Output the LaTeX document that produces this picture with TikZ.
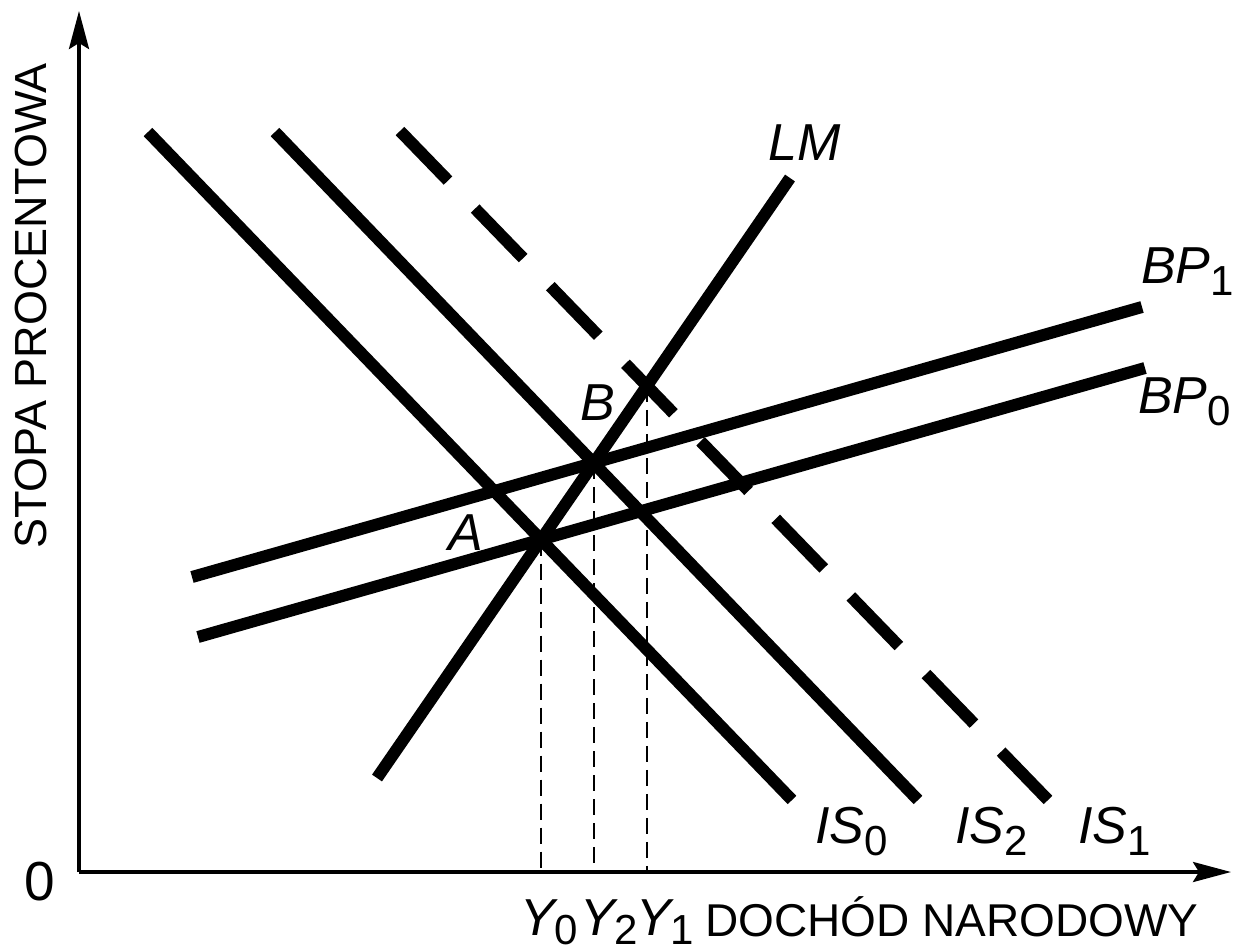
\documentclass[tikz,border=0pt]{standalone}
\usepackage{fontspec}
\setmainfont{Liberation Sans}
\usetikzlibrary{arrows.meta}
\newcommand{\crv}[3][12pt]{{\fontsize{52}{52}\selectfont\itshape #2}{\fontsize{42}{42}\selectfont\upshape\raisebox{-#1}{#3}}}
\tikzset{
  curve/.style={line width=12pt, line cap=butt},
  dcurve/.style={curve, dash pattern=on 69pt off 39pt},
  axisline/.style={line width=3.5pt, -{Stealth[length=38pt,width=20pt,inset=6pt]}},
  guide/.style={line width=2.2pt, dash pattern=on 16pt off 8pt},
  lbl/.style={inner sep=0pt, anchor=base west, font=\fontsize{52}{52}\selectfont\itshape},
  axlbl/.style={inner sep=0pt, font=\fontsize{46}{46}\selectfont}
}
\begin{document}
\begin{tikzpicture}[x=1pt,y=-1pt]
\useasboundingbox (0,0) rectangle (1238,951);
% axes
\coordinate (O) at (79,872);
\coordinate (xend) at (1231,872);
\coordinate (yend) at (79,11);
% curve endpoints
\coordinate (is0a) at (148,132); \coordinate (is0b) at (792,800);
\coordinate (is2a) at (275,132); \coordinate (is2b) at (918,800);
\coordinate (is1a) at (400,131); \coordinate (is1b) at (1048,800);
\coordinate (lma) at (377,778);  \coordinate (lmb) at (790,178);
\coordinate (bp1a) at (192,577); \coordinate (bp1b) at (1142,307);
\coordinate (bp0a) at (198,637); \coordinate (bp0b) at (1145,368);
% intersections
\coordinate (A) at (intersection of is0a--is0b and lma--lmb);
\coordinate (B) at (intersection of is2a--is2b and lma--lmb);
\coordinate (C) at (intersection of is1a--is1b and lma--lmb);
% guide lines
\draw[guide] (A) -- (A |- O);
\draw[guide] (B) -- (B |- O);
\draw[guide] (C) -- (C |- O);
% axes
\draw[axisline] (O) -- (xend);
\draw[axisline] (O) -- (yend);
% curves
\draw[curve] (is0a) -- (is0b);
\draw[curve] (is2a) -- (is2b);
\draw[dcurve] (is1a) -- (is1b);
\draw[curve] (lma) -- (lmb);
\draw[curve] (bp1a) -- (bp1b);
\draw[curve] (bp0a) -- (bp0b);
% labels
\node[lbl] (lLM) at (768,160) {LM};
\node[lbl] (lBP1) at (1141,283) {\crv{BP}{1}};
\node[lbl] (lBP0) at (1138,413) {\crv{BP}{0}};
\node[lbl] (lIS0) at (815,843) {\crv{IS}{0}};
\node[lbl] (lIS2) at (955,843) {\crv{IS}{2}};
\node[lbl] (lIS1) at (1078,843) {\crv{IS}{1}};
\node[lbl] (lA) at (448,550) {A};
\node[lbl] (lB) at (580,420) {B};
\node[lbl] (lY0) at (520,935) {\crv[9pt]{Y}{0}};
\node[lbl] (lY2) at (580,935) {\crv[9pt]{Y}{2}};
\node[lbl] (lY1) at (636,935) {\crv[9pt]{Y}{1}};
\node[axlbl, anchor=base west] (lx) at (705,936) {DOCHÓD NARODOWY};
\node[axlbl, rotate=90, font=\fontsize{45}{45}\selectfont] (ly) at (31,306) {STOPA PROCENTOWA};
\node[inner sep=0pt, font=\fontsize{55}{55}\selectfont] (l0) at (40,882) {0};
\end{tikzpicture}
\end{document}
